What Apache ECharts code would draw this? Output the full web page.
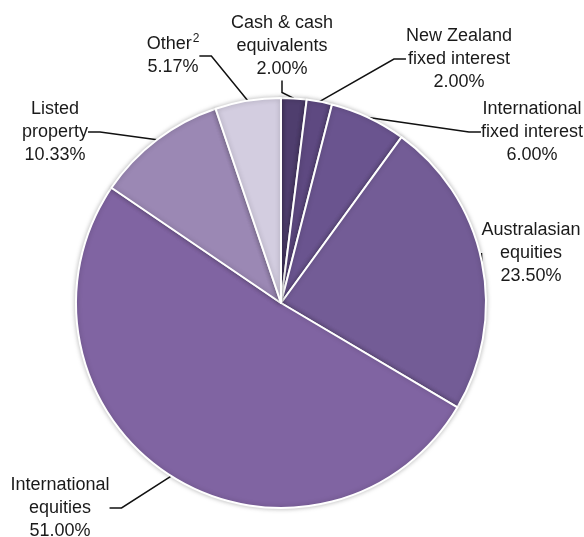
<!DOCTYPE html>
<html>
<head>
<meta charset="utf-8">
<script src="https://cdn.jsdelivr.net/npm/echarts@6/dist/echarts.min.js"></script>
<style>
  html, body { margin: 0; padding: 0; background: #fff; }
  #chart { width: 584px; height: 537px; }
</style>
</head>
<body>
<div id="chart"></div>
<script>
// asset allocation, clockwise from 12 o'clock
const names = ['Cash & cash\nequivalents', 'New Zealand\nfixed interest', 'International\nfixed interest',
  'Australasian\nequities', 'International\nequities', 'Listed\nproperty', 'Other{sup|2}']
const values = [2.00, 2.00, 6.00, 23.50, 51.00, 10.33, 5.17]
const colors = ['#4f3e6e', '#5e4981', '#6a548f', '#735c96', '#8064a2', '#9b88b4', '#d3cde0']
// where each label block sits (centre of block)
const labelPos = [[282, 46], [459, 59], [532, 132], [531, 253], [60, 508], [55, 132], [173, 56]]

const chartInst = echarts.init(document.getElementById('chart'))

const data = values.map((v, i) => ({
  name: names[i],
  value: v,
  itemStyle: { color: colors[i] }
}))

chartInst.setOption({
  animation: false,
  series: [{
    type: 'pie',
    center: [281, 303],
    radius: 205,
    startAngle: 90,
    clockwise: true,
    data,
    itemStyle: {
      borderColor: '#fff',
      borderWidth: 2,
      shadowBlur: 5,
      shadowColor: 'rgba(0,0,0,0.25)'
    },
    emphasis: { disabled: true },
    label: {
      show: true,
      position: 'outside',
      overflow: 'none',
      fontFamily: 'Liberation Sans',
      fontSize: 18,
      lineHeight: 23,
      color: '#1a1a1a',
      formatter: p => p.name + '\n' + p.value.toFixed(2) + '%',
      rich: {
        sup: { fontSize: 12, lineHeight: 23, verticalAlign: 'top', padding: [0, 0, 10, 1], fontFamily: 'Liberation Sans', color: '#1a1a1a' }
      }
    },
    labelLine: {
      show: true,
      length: 10,
      length2: 12,
      lineStyle: { color: '#111', width: 1.5 }
    },
    labelLayout: params => ({
      x: labelPos[params.dataIndex][0],
      y: labelPos[params.dataIndex][1],
      align: 'center',
      verticalAlign: 'middle'
    })
  }]
})
</script>
</body>
</html>
